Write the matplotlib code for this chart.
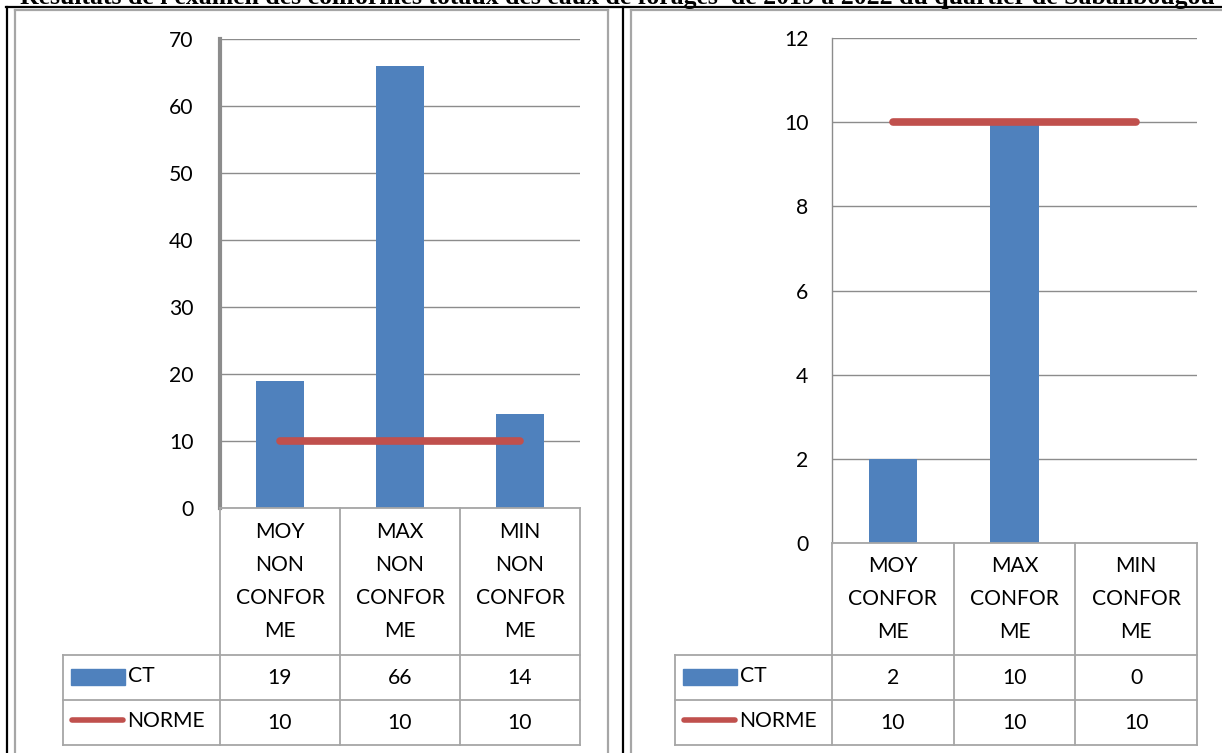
import matplotlib
matplotlib.use('Agg')
import matplotlib.pyplot as plt
import matplotlib.transforms as mtransforms
from matplotlib.lines import Line2D
from matplotlib.patches import Rectangle

# data
TITLE = "Résultats de l'examen des coliformes totaux des eaux de forages  de 2019 à 2022 du quartier de Sabalibougou"

cats_nc = ['MOY\nNON\nCONFOR\nME', 'MAX\nNON\nCONFOR\nME', 'MIN\nNON\nCONFOR\nME']
ct_nc = [19, 66, 14]
norme_nc = [10, 10, 10]
yticks_nc = [0, 10, 20, 30, 40, 50, 60, 70]

cats_c = ['MOY\nCONFOR\nME', 'MAX\nCONFOR\nME', 'MIN\nCONFOR\nME']
ct_c = [2, 10, 0]
norme_c = [10, 10, 10]
yticks_c = [0, 2, 4, 6, 8, 10, 12]

BLUE = '#4F81BD'
RED = '#C0504D'
GRID = '#8C8C8C'
CELL = '#A6A6A6'
FS = 15.2

plt.rcParams['font.family'] = ['Lato', 'DejaVu Sans']

W, H = 1222, 753
fig = plt.figure(figsize=(W / 100, H / 100), dpi=100)

# pixel coordinates, origin top-left
T = mtransforms.Affine2D().scale(1 / W, -1 / H).translate(0, 1) + fig.transFigure


def hline(y, x0, x1, color, lw):
    fig.add_artist(Line2D([x0, x1], [y, y], color=color, lw=lw, transform=T))


def vline(x, y0, y1, color, lw):
    fig.add_artist(Line2D([x, x], [y0, y1], color=color, lw=lw, transform=T))


def chart(l, t, r, b, cats, ct, norme, yticks, spine_lw, pad):
    ax = fig.add_axes([l / W, 1 - b / H, (r - l) / W, (b - t) / H])
    x = list(range(len(cats)))
    ax.bar(x, ct, width=0.4, color=BLUE, zorder=3)
    ax.plot(x, norme, color=RED, lw=5.5, solid_capstyle='round', zorder=4)
    ax.set_xlim(-0.5, len(cats) - 0.5)
    ax.set_ylim(yticks[0], yticks[-1])
    ax.set_yticks(yticks)
    ax.set_xticks([])
    ax.yaxis.grid(True, color=GRID, lw=1.0)
    ax.set_axisbelow(True)
    for s in ['top', 'right', 'bottom']:
        ax.spines[s].set_visible(False)
    ax.spines['left'].set_color(GRID)
    ax.spines['left'].set_linewidth(spine_lw)
    ax.tick_params(axis='y', length=0, pad=pad, labelsize=FS)

    # data table under the plot
    n = len(cats)
    step = (r - l) / n
    edges = [l + i * step for i in range(n + 1)]
    leg_l = l - 157
    rows = [655, 700, 745]
    for e in edges:
        vline(e, b, rows[-1], CELL, 1.3)
    vline(leg_l, rows[0], rows[-1], CELL, 1.3)
    hline(b, l, r, CELL, 1.3)
    for y in rows:
        hline(y, leg_l, r, CELL, 1.3)

    # category headers
    hc = (b + rows[0]) / 2
    for i, c in enumerate(cats):
        lines = c.split('\n')
        cx = (edges[i] + edges[i + 1]) / 2
        for k, s in enumerate(lines):
            yy = hc + (k - (len(lines) - 1) / 2) * 33
            fig.text(cx, yy, s, transform=T, ha='center', va='center', fontsize=FS)

    # series rows
    for j, (name, vals) in enumerate([('CT', ct), ('NORME', norme)]):
        yc = (rows[j] + rows[j + 1]) / 2
        for i, v in enumerate(vals):
            cx = (edges[i] + edges[i + 1]) / 2
            fig.text(cx, yc + 1, str(v), transform=T, ha='center', va='center', fontsize=FS)
        if name == 'CT':
            fig.add_artist(Rectangle((leg_l + 8, yc - 8), 54, 16, color=BLUE, transform=T))
            fig.text(leg_l + 65, yc - 1, name, transform=T, ha='left', va='center', fontsize=FS)
        else:
            fig.add_artist(Line2D([leg_l + 9, leg_l + 60], [yc - 2, yc - 2], color=RED, lw=4,
                                  solid_capstyle='round', transform=T))
            fig.text(leg_l + 64, yc - 1, name, transform=T, ha='left', va='center', fontsize=FS)
    return ax


# page frame and title
fig.text(20, 4, TITLE, transform=T, ha='left', va='baseline', fontsize=18.5,
         fontweight='bold', family=['Liberation Serif', 'DejaVu Serif'])
hline(7.5, 6, W, 'black', 1.6)
vline(7, 7, H, 'black', 1.6)
vline(623, 7, H, 'black', 1.6)
# panel borders
hline(10, 15, 608, CELL, 1.6)
vline(15, 10, H, CELL, 1.6)
vline(608, 10, H, CELL, 1.6)
hline(10, 631, W, CELL, 1.6)
vline(631, 10, H, CELL, 1.6)

chart(220, 39, 580, 508, cats_nc, ct_nc, norme_nc, yticks_nc, 3.0, 19)
chart(832, 38, 1197, 543, cats_c, ct_c, norme_c, yticks_c, 1.0, 17)

fig.savefig('out.png', dpi=100)
